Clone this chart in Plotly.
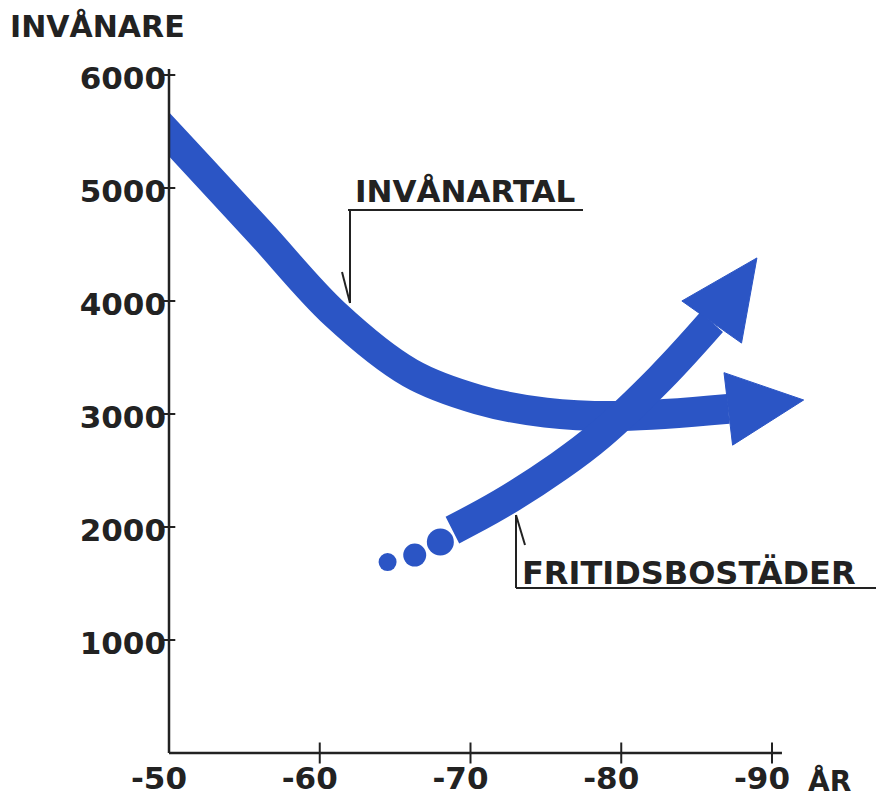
import math
import plotly.graph_objects as go

# ---------------- data ----------------
inv_years = [46.0, 51.0, 56.0, 61.0, 66.0, 70.5, 75.0, 80.0, 87.1]
inv_values = [6052, 5332, 4611, 3885, 3363, 3128, 3012, 2982, 3045]
inv_tip_year, inv_tip_value = 92.1, 3124

fri_years = [68.8, 72.0, 75.9, 78.6, 82.6, 86.0]
fri_values = [1973, 2204, 2540, 2814, 3319, 3814]
fri_tip_year, fri_tip_value = 89.0, 4381

dot_years = [64.5, 66.3, 68.0]
dot_values = [1690, 1752, 1867]
dot_sizes = [18, 23, 27]

x_ticks = [50, 60, 70, 80, 90]
x_labels = ["-50", "-60", "-70", "-80", "-90"]
y_ticks = [1000, 2000, 3000, 4000, 5000, 6000]
y_labels = ["1000", "2000", "3000", "4000", "5000", "6000"]

# ---------------- layout constants ----------------
OFF = 8                         # page body margin of the html page
W, H = 876, 791
ML, MR, MT, MB = 161, 0, 61, 46
PW, PH = W - ML - MR, H - MT - MB
X0, KX = 50.0, 15.075          # px per year
Y0, KY = 0.0, 0.113            # px per inhabitant
X1 = X0 + PW / KX
Y1 = Y0 + PH / KY

BLUE = "#2b55c5"
INK = "#222222"
FONT = "DejaVu Sans"


def to_px(x, y):
    """data -> page pixels"""
    return OFF + ML + (x - X0) * KX, OFF + MT + (Y1 - y) * KY


def from_px(px, py):
    """page pixels -> data"""
    return X0 + (px - OFF - ML) / KX, Y1 - (py - OFF - MT) / KY


def paper(px, py):
    return (px - OFF - ML) / PW, (OFF + MT + PH - py) / PH


def arrow_head(bx_d, by_d, tx_d, ty_d, half_w):
    bx, by = to_px(bx_d, by_d)
    tx, ty = to_px(tx_d, ty_d)
    dx, dy = tx - bx, ty - by
    n = math.hypot(dx, dy)
    nx, ny = -dy / n, dx / n
    c1 = from_px(bx + nx * half_w, by + ny * half_w)
    c2 = from_px(bx - nx * half_w, by - ny * half_w)
    return [c1[0], tx_d, c2[0], c1[0]], [c1[1], ty_d, c2[1], c1[1]]


fig = go.Figure()

# INVÅNARTAL band
fig.add_trace(go.Scatter(x=inv_years, y=inv_values, mode="lines",
                         line=dict(color=BLUE, width=30, shape="spline", smoothing=1.0),
                         hoverinfo="skip"))
hx, hy = arrow_head(inv_years[-1], inv_values[-1], inv_tip_year, inv_tip_value, 36.5)
fig.add_trace(go.Scatter(x=hx, y=hy, mode="lines", fill="toself", fillcolor=BLUE,
                         line=dict(color=BLUE, width=1), hoverinfo="skip"))

# FRITIDSBOSTÄDER band
fig.add_trace(go.Scatter(x=fri_years, y=fri_values, mode="lines",
                         line=dict(color=BLUE, width=30, shape="spline", smoothing=1.1),
                         hoverinfo="skip"))
hx, hy = arrow_head(fri_years[-1], fri_values[-1], fri_tip_year, fri_tip_value, 36.5)
fig.add_trace(go.Scatter(x=hx, y=hy, mode="lines", fill="toself", fillcolor=BLUE,
                         line=dict(color=BLUE, width=1), hoverinfo="skip"))
fig.add_trace(go.Scatter(x=dot_years, y=dot_values, mode="markers",
                         marker=dict(color=BLUE, size=dot_sizes, opacity=1, line=dict(width=0)),
                         hoverinfo="skip"))

# crossing tick marks
fig.add_trace(go.Scatter(x=x_ticks[1:], y=[0] * (len(x_ticks) - 1), mode="markers",
                         marker=dict(symbol="line-ns", size=15, line=dict(color=INK, width=2)),
                         cliponaxis=False, hoverinfo="skip"))
fig.add_trace(go.Scatter(x=[X0] * len(y_ticks), y=y_ticks, mode="markers",
                         marker=dict(symbol="line-ew", size=9, line=dict(color=INK, width=2)),
                         cliponaxis=False, hoverinfo="skip"))

shapes = []
# axis lines
ax_end = paper(to_px(90.66, 0)[0], 0)[0]
shapes.append(dict(type="line", xref="paper", yref="paper", x0=0, y0=0, x1=ax_end, y1=0,
                   line=dict(color=INK, width=2.5)))
shapes.append(dict(type="line", xref="paper", yref="paper", x0=0, y0=0, x1=0, y1=1,
                   line=dict(color=INK, width=2.5)))

# callout INVÅNARTAL
a = from_px(348, 210); b = from_px(583, 210); c = from_px(350, 303); d = from_px(342, 272)
shapes.append(dict(type="line", x0=a[0], y0=a[1], x1=b[0], y1=b[1], line=dict(color=INK, width=2)))
shapes.append(dict(type="line", x0=c[0], y0=a[1], x1=c[0], y1=c[1], line=dict(color=INK, width=2)))
shapes.append(dict(type="line", x0=d[0], y0=d[1], x1=c[0], y1=c[1], line=dict(color=INK, width=2)))

# callout FRITIDSBOSTÄDER
a = from_px(516, 588); c = from_px(516, 515); d = from_px(525, 545)
shapes.append(dict(type="line", x0=a[0], y0=a[1], x1=X1, y1=a[1], line=dict(color=INK, width=2)))
shapes.append(dict(type="line", x0=a[0], y0=a[1], x1=c[0], y1=c[1], line=dict(color=INK, width=2)))
shapes.append(dict(type="line", x0=c[0], y0=c[1], x1=d[0], y1=d[1], line=dict(color=INK, width=2)))

annotations = []


def label(text, px, py, size):
    x, y = paper(px, py)
    annotations.append(dict(text=text, xref="paper", yref="paper", x=x, y=y,
                            xanchor="left", yanchor="middle", showarrow=False,
                            font=dict(family=FONT, size=size, color=INK, weight="bold")))


label("INVÅNARE", 8, 26, 30)
label("INVÅNARTAL", 353, 191, 31)
label("FRITIDSBOSTÄDER", 520, 573, 32)
label("ÅR", 806, 781, 28)

fig.update_layout(
    width=W, height=H,
    margin=dict(l=ML, r=MR, t=MT, b=MB, autoexpand=False),
    paper_bgcolor="white", plot_bgcolor="white",
    showlegend=False,
    shapes=shapes, annotations=annotations,
    xaxis=dict(range=[X0, X1], tickvals=x_ticks, ticktext=x_labels, showgrid=False,
               zeroline=False, showline=False, ticks="", ticklabelshift=-10,
               ticklabelstandoff=4, automargin=False,
               tickfont=dict(family=FONT, size=31, color=INK, weight="bold")),
    yaxis=dict(range=[Y0, Y1], tickvals=y_ticks, ticktext=y_labels, showgrid=False,
               zeroline=False, showline=False, ticks="", ticklabelshift=3,
               ticklabelstandoff=2, automargin=False,
               tickfont=dict(family=FONT, size=31, color=INK, weight="bold")),
)

fig.write_html("out.html", config={"displayModeBar": False})
